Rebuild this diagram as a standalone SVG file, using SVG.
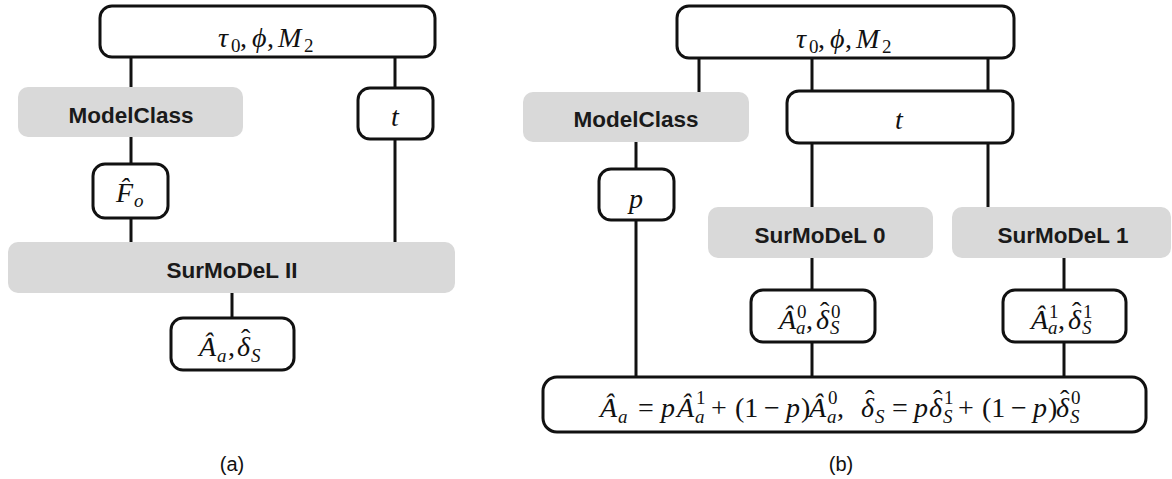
<svg xmlns="http://www.w3.org/2000/svg" width="1172" height="479" viewBox="0 0 1172 479">
  <style>
    .box { fill: #ffffff; stroke: #111111; stroke-width: 3; }
    .gbox { fill: #d9d9d9; stroke: none; }
    .lbl { font-family: "Liberation Sans", Arial, sans-serif; font-weight: bold; font-size: 22.5px; fill: #1a1a1a; text-anchor: middle; }
    .cap { font-family: "Liberation Sans", Arial, sans-serif; font-size: 20px; fill: #111111; text-anchor: middle; }
    .m { font-family: "Liberation Serif", "DejaVu Serif", serif; fill: #111111; }
    .mi { font-style: italic; font-size: 28px; }
    .mu { font-style: normal; font-size: 28px; }
    .si { font-style: italic; font-size: 19px; }
    .su { font-style: normal; font-size: 19px; }
    .hat { font-style: normal; font-size: 28px; }
    #connectors line { stroke: #111111; stroke-width: 3; }
  </style>

  <!-- connectors -->
  <g id="connectors">
    <!-- panel (a) -->
    <line x1="131" y1="57" x2="131" y2="88"/>
    <line x1="395" y1="57" x2="395" y2="88"/>
    <line x1="131" y1="137" x2="131" y2="164"/>
    <line x1="131" y1="218" x2="131" y2="242"/>
    <line x1="395" y1="139" x2="395" y2="242"/>
    <line x1="232" y1="293" x2="232" y2="318"/>
    <!-- panel (b) -->
    <line x1="699" y1="58" x2="699" y2="92"/>
    <line x1="812" y1="58" x2="812" y2="91"/>
    <line x1="988" y1="58" x2="988" y2="91"/>
    <line x1="636" y1="142" x2="636" y2="169"/>
    <line x1="636" y1="220" x2="636" y2="377"/>
    <line x1="812" y1="143" x2="812" y2="207"/>
    <line x1="988" y1="143" x2="988" y2="207"/>
    <line x1="812" y1="258" x2="812" y2="290"/>
    <line x1="1064" y1="258" x2="1064" y2="290"/>
    <line x1="812" y1="342" x2="812" y2="377"/>
    <line x1="1064" y1="342" x2="1064" y2="377"/>
  </g>

  <!-- ===== panel (a) ===== -->
  <g id="a-params">
    <rect class="box" x="100" y="6" width="335" height="51" rx="12"/>
    <text class="m">
      <tspan class="mi" x="218" y="47">τ</tspan><tspan class="su" x="231" y="52">0</tspan><tspan class="mu" x="240" y="47">,</tspan><tspan class="mi" x="252" y="47">ϕ</tspan><tspan class="mu" x="267" y="47">,</tspan><tspan class="mi" x="278" y="47">M</tspan><tspan class="su" x="304" y="52">2</tspan>
    </text>
  </g>

  <g id="a-modelclass">
    <rect class="gbox" x="18" y="87" width="225" height="50" rx="10"/>
    <text class="lbl" x="131" y="123">ModelClass</text>
  </g>

  <g id="a-t">
    <rect class="box" x="358" y="88" width="75" height="51" rx="12"/>
    <text class="m mi" x="395" y="126" text-anchor="middle">t</text>
  </g>

  <g id="a-fo">
    <rect class="box" x="93" y="164" width="75" height="54" rx="12"/>
    <text class="m">
      <tspan class="mi" x="116" y="202">F&#x302;</tspan><tspan class="si" x="134" y="207">o</tspan>
    </text>
  </g>

  <g id="a-surmodel">
    <rect class="gbox" x="8" y="242" width="447" height="51" rx="10"/>
    <text class="lbl" x="232" y="278">SurMoDeL II</text>
  </g>

  <g id="a-out">
    <rect class="box" x="171" y="318" width="123" height="52" rx="12"/>
    <text class="m">
      <tspan class="mi" x="199" y="356">Â</tspan><tspan class="si" x="217" y="362">a</tspan><tspan class="mu" x="228" y="356">,</tspan><tspan class="mi" x="237" y="356">δ</tspan><tspan class="hat" x="241" y="348">ˆ</tspan><tspan class="si" x="251" y="362">S</tspan>
    </text>
  </g>

  <text id="a-caption" class="cap" x="232" y="471">(a)</text>

  <!-- ===== panel (b) ===== -->
  <g id="b-params">
    <rect class="box" x="677" y="6" width="337" height="52" rx="12"/>
    <text class="m">
      <tspan class="mi" x="796" y="48">τ</tspan><tspan class="su" x="809" y="53">0</tspan><tspan class="mu" x="818" y="48">,</tspan><tspan class="mi" x="830" y="48">ϕ</tspan><tspan class="mu" x="845" y="48">,</tspan><tspan class="mi" x="856" y="48">M</tspan><tspan class="su" x="882" y="53">2</tspan>
    </text>
  </g>

  <g id="b-modelclass">
    <rect class="gbox" x="523" y="92" width="226" height="50" rx="10"/>
    <text class="lbl" x="636" y="127">ModelClass</text>
  </g>

  <g id="b-t">
    <rect class="box" x="787" y="91" width="226" height="52" rx="12"/>
    <text class="m mi" x="899" y="129" text-anchor="middle">t</text>
  </g>

  <g id="b-p">
    <rect class="box" x="599" y="169" width="75" height="51" rx="12"/>
    <text class="m mi" x="636" y="208" text-anchor="middle">p</text>
  </g>

  <g id="b-surmodel0">
    <rect class="gbox" x="708" y="207" width="225" height="51" rx="10"/>
    <text class="lbl" x="820" y="243">SurMoDeL 0</text>
  </g>

  <g id="b-surmodel1">
    <rect class="gbox" x="952" y="207" width="219" height="51" rx="10"/>
    <text class="lbl" x="1063" y="243">SurMoDeL 1</text>
  </g>

  <g id="b-out0">
    <rect class="box" x="751" y="290" width="124" height="52" rx="12"/>
    <text class="m">
      <tspan class="mi" x="779" y="329">Â</tspan><tspan class="su" x="797" y="318">0</tspan><tspan class="si" x="796" y="334">a</tspan><tspan class="mu" x="806" y="329">,</tspan><tspan class="mi" x="816" y="329">δ</tspan><tspan class="hat" x="820" y="321">ˆ</tspan><tspan class="su" x="831" y="318">0</tspan><tspan class="si" x="830" y="334">S</tspan>
    </text>
  </g>

  <g id="b-out1">
    <rect class="box" x="1003" y="290" width="123" height="52" rx="12"/>
    <text class="m">
      <tspan class="mi" x="1031" y="329">Â</tspan><tspan class="su" x="1049" y="318">1</tspan><tspan class="si" x="1048" y="334">a</tspan><tspan class="mu" x="1058" y="329">,</tspan><tspan class="mi" x="1068" y="329">δ</tspan><tspan class="hat" x="1072" y="321">ˆ</tspan><tspan class="su" x="1083" y="318">1</tspan><tspan class="si" x="1082" y="334">S</tspan>
    </text>
  </g>

  <g id="b-mix">
    <rect class="box" x="543" y="377" width="603" height="55" rx="14"/>
    <text class="m">
      <tspan class="mi" x="600" y="417">Â</tspan><tspan class="si" x="618" y="423">a</tspan>
      <tspan class="mu" x="638" y="417">=</tspan>
      <tspan class="mi" x="661" y="417">p</tspan><tspan class="mi" x="677" y="417">Â</tspan><tspan class="su" x="696" y="404">1</tspan><tspan class="si" x="695" y="423">a</tspan>
      <tspan class="mu" x="711" y="417">+</tspan>
      <tspan class="mu" x="735" y="417">(1</tspan><tspan class="mu" x="764" y="417">−</tspan><tspan class="mi" x="786" y="417">p</tspan><tspan class="mu" x="801" y="417">)</tspan>
      <tspan class="mi" x="809" y="417">Â</tspan><tspan class="su" x="828" y="404">0</tspan><tspan class="si" x="827" y="423">a</tspan><tspan class="mu" x="837" y="417">,</tspan>
      <tspan class="mi" x="861" y="417">δ</tspan><tspan class="hat" x="865" y="409">ˆ</tspan><tspan class="si" x="875" y="423">S</tspan>
      <tspan class="mu" x="892" y="417">=</tspan>
      <tspan class="mi" x="914" y="417">p</tspan><tspan class="mi" x="929" y="417">δ</tspan><tspan class="hat" x="933" y="409">ˆ</tspan><tspan class="su" x="944" y="404">1</tspan><tspan class="si" x="943" y="423">S</tspan>
      <tspan class="mu" x="958" y="417">+</tspan>
      <tspan class="mu" x="982" y="417">(1</tspan><tspan class="mu" x="1011" y="417">−</tspan><tspan class="mi" x="1033" y="417">p</tspan><tspan class="mu" x="1048" y="417">)</tspan>
      <tspan class="mi" x="1056" y="417">δ</tspan><tspan class="hat" x="1060" y="409">ˆ</tspan><tspan class="su" x="1071" y="404">0</tspan><tspan class="si" x="1070" y="423">S</tspan>
    </text>
  </g>

  <text id="b-caption" class="cap" x="841" y="471">(b)</text>
</svg>
